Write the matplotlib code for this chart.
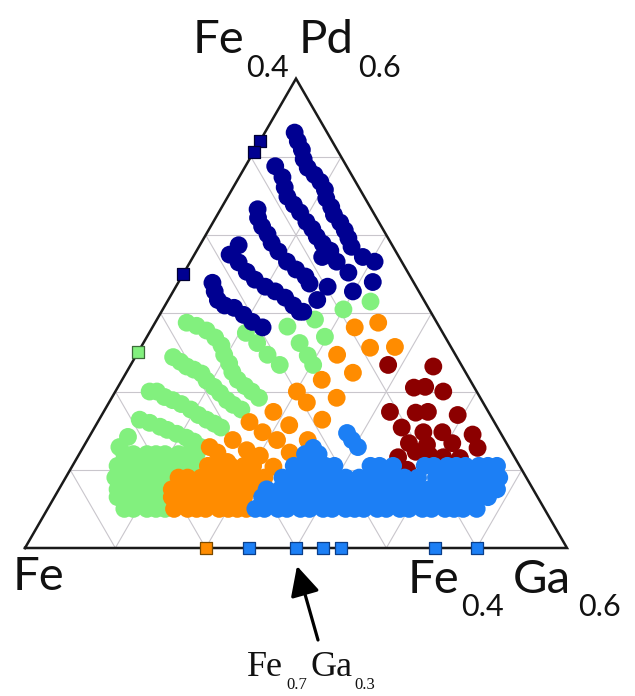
import numpy as np
import matplotlib
matplotlib.use("Agg")
import matplotlib.pyplot as plt

# compositions in at.% (Ga, Pd); Fe is the balance
navy = [(3.3, 53.1), (4.2, 52.0), (5.2, 50.9), (6.0, 49.7), (7.0, 48.6), (8.2, 47.7),
        (9.3, 46.8), (10.3, 45.8), (11.0, 44.7), (12.1, 43.6), (12.9, 42.6), (14.1, 41.6),
        (15.1, 40.6), (16.0, 39.6), (16.9, 38.5), (18.8, 37.2), (20.4, 36.6), (21.5, 34.0),
        (3.3, 48.8), (4.8, 47.4), (5.7, 46.1), (6.6, 44.9), (7.8, 43.9), (9.0, 42.9),
        (10.3, 41.7), (11.4, 40.8), (12.4, 39.8), (13.5, 38.9), (14.8, 38.0), (16.2, 36.6),
        (18.2, 35.2), (19.9, 32.8),
        (4.1, 43.3), (4.7, 42.2), (5.7, 41.1), (6.8, 40.1), (7.8, 39.0), (9.1, 37.9),
        (10.7, 36.6), (12.2, 35.6), (13.7, 34.7), (14.6, 33.8), (14.3, 37.2), (16.8, 33.4),
        (16.5, 31.7), (15.7, 30.2),
        (4.3, 38.7), (3.9, 37.5), (5.4, 36.5), (6.9, 35.3), (8.3, 34.3), (9.9, 33.4),
        (11.3, 32.8), (12.8, 32.0), (14.2, 31.0), (15.3, 30.2),
        (3.8, 33.9), (4.6, 32.8), (5.5, 31.7), (6.6, 31.0), (7.8, 30.7), (9.3, 29.8),
        (10.7, 28.9), (12.2, 28.2)]

green = [(3.5, 28.8), (4.8, 28.4), (6.2, 27.8), (7.6, 26.9), (8.8, 25.9), (9.7, 24.7),
         (10.8, 23.6), (11.7, 22.5), (12.8, 21.5), (14.0, 20.7), (15.1, 20.0), (16.3, 19.2),
         (4.2, 24.4), (5.3, 23.8), (6.3, 23.2), (7.3, 22.8), (8.4, 22.3), (9.4, 21.4),
         (10.6, 20.6), (11.7, 19.8), (12.9, 18.9), (13.9, 18.3), (15.1, 17.7),
         (3.8, 20.0), (4.6, 20.0), (5.8, 19.3), (6.9, 18.9), (8.1, 18.4), (9.5, 17.7),
         (10.7, 17.0), (11.9, 16.4), (13.0, 15.9), (14.0, 15.4),
         (4.5, 16.4), (5.8, 16.0), (7.2, 15.5), (8.2, 15.1), (9.5, 14.6), (10.8, 14.1),
         (11.9, 13.6), (13.0, 12.9), (4.3, 14.2), (4.0, 12.9),
         (10.7, 27.5), (12.6, 26.2), (14.5, 24.7), (16.5, 23.4),
         (14.9, 28.3), (17.3, 26.2), (19.0, 24.6), (20.2, 23.4),
         (17.5, 29.2), (19.7, 27.0), (20.0, 30.5), (22.5, 31.5)]
green_rows = {5: [8.5, 9.5, 11, 12, 13],
              6.5: [7, 8, 9.5, 10.5, 11.5, 12.5],
              7.5: [6.5, 7.5, 8.5, 10, 11, 12],
              9: [5.5, 6.5, 8, 9, 10, 11.5],
              10.5: [5, 6, 7.5, 8.5, 9.5, 11, 12, 13, 14],
              12: [5, 6, 7.5, 8.5, 9.5, 11, 12, 13]}

orange = [(22.4, 28.2), (24.7, 28.8), (25.4, 25.6), (28.1, 25.7), (22.2, 24.7), (25.1, 22.4),
          (22.1, 21.5), (24.9, 19.2), (21.9, 18.6), (20.1, 20.0), (24.7, 16.4), (24.4, 13.8),
          (18.8, 17.4), (21.4, 15.7), (16.8, 16.1), (18.9, 14.8), (21.0, 13.8), (23.2, 12.2),
          (16.1, 13.8), (18.3, 12.5), (20.1, 11.8), (22.3, 10.4), (20.7, 9.1),
          (15.2, 12.2), (16.9, 11.0), (18.8, 10.0), (14.0, 12.9)]
orange_rows = {5: [14, 15.5, 16.5, 17.5, 19, 20, 21, 22],
               6.5: [13, 14, 15.5, 16.5, 17.5, 19, 20, 21],
               7.5: [12.5, 13.5, 15, 16, 17, 18.5, 19.5, 20.5, 22],
               9: [12.5, 13.5, 15, 16, 17, 18.5, 19.5, 20.5, 22],
               10.5: [15, 16.5, 17.5, 19, 20]}

red = [(28.5, 23.4), (33.6, 23.2), (32.8, 20.5), (34.0, 20.6), (36.3, 20.0), (31.7, 17.4),
       (34.6, 17.3), (35.9, 17.4), (39.4, 17.0), (34.0, 15.4), (36.7, 14.8), (38.8, 14.8),
       (42.3, 14.5), (35.8, 13.4), (37.9, 13.2), (40.6, 13.4), (43.7, 12.8), (35.5, 11.6),
       (38.8, 11.9), (40.5, 11.6), (42.4, 11.5), (37.3, 10.0), (40.2, 11.0), (37.1, 12.3)]

blue = [(28.3, 14.7), (29.3, 13.8), (30.4, 12.9), (25.5, 12.8)]
blue_rows = {5: [23, 24, 25.5, 26.5, 28, 29, 30.5, 31.5, 33, 34, 35, 36.5, 37.5, 39, 40,
                 41.5, 42.5, 44, 45, 46, 47.5],
             6.5: [23, 24, 25, 26.5, 27.5, 29, 30, 31, 32.5, 33.5, 35, 36, 37, 38.5, 39.5,
                   41, 42, 43, 44.5, 45.5, 47, 48],
             7.5: [23, 24.5, 25.5, 27, 28, 29, 30.5, 31.5, 33, 34, 35, 36.5, 37.5, 38.5, 40,
                   41, 42.5, 43.5, 44.5, 46, 47, 48.5],
             9: [24, 25, 26, 27.5, 28.5, 30, 31, 32.5, 34, 35, 36.5, 37.5, 39, 41, 42, 43.5,
                 44.5, 45.5, 47, 48],
             10.5: [24.5, 26, 27, 28, 29, 33, 34, 35.5, 39, 40, 41.5, 42.5, 43.5, 45, 46, 47],
             12: [25, 26.5]}

# binary reference films on the edges
edge_fega_orange = [20.0]
edge_fega_blue = [24.8, 30.0, 33.0, 35.0, 45.4, 50.0]
edge_fepd_navy = [52.0, 50.6, 35.0]
edge_fepd_green = [25.0]

C_NAVY, C_GREEN, C_ORANGE, C_RED, C_BLUE = "#000091", "#82F07E", "#FF8C00", "#8C0000", "#1C7FF5"


def with_rows(points, rows):
    pts = list(points)
    for pd_val, gas in rows.items():
        pts += [(g, pd_val) for g in gas]
    return pts


def tern(ga, pd):
    # corners: Fe (0,0), Fe0.4Ga0.6 (1,0), Fe0.4Pd0.6 (1/2, sqrt3/2)
    b = np.asarray(ga, float) / 60.0
    c = np.asarray(pd, float) / 60.0
    return b + c / 2, c * np.sqrt(3) / 2


W, H = 635, 696
fig = plt.figure(figsize=(W / 100, H / 100), dpi=100)
ax = fig.add_axes([0, 0, 1, 1])
ax.set_xlim(-25 / 542, (W - 25) / 542)
ax.set_ylim(-(H - 548) / 542, 548 / 542)
ax.axis("off")

h = np.sqrt(3) / 2
for k in range(1, 6):
    f = k / 6
    ax.plot([f / 2, 1 - f / 2], [f * h, f * h], color="#c9c6cc", lw=0.8, zorder=1)
    ax.plot([f, f + (1 - f) / 2], [0, (1 - f) * h], color="#c9c6cc", lw=0.8, zorder=1)
    ax.plot([1 - f, (1 - f) / 2], [0, (1 - f) * h], color="#c9c6cc", lw=0.8, zorder=1)
ax.plot([0, 1, 0.5, 0], [0, 0, h, 0], color="#1a1a1a", lw=1.8, zorder=2,
        solid_joinstyle="miter")

groups = [(with_rows(green, green_rows), C_GREEN),
          (navy, C_NAVY),
          (with_rows(orange, orange_rows), C_ORANGE),
          (red, C_RED),
          (with_rows(blue, blue_rows), C_BLUE)]
for pts, col in groups:
    ga, pd = zip(*pts)
    x, y = tern(ga, pd)
    ax.scatter(x, y, s=165, color=col, edgecolors="none", zorder=3)

sq = dict(marker="s", s=80, linewidths=0.9, zorder=4)
x, y = tern(edge_fega_orange, np.zeros(1))
ax.scatter(x, y, color=C_ORANGE, edgecolors="#7a4a00", **sq)
x, y = tern(edge_fega_blue, np.zeros(len(edge_fega_blue)))
ax.scatter(x, y, color=C_BLUE, edgecolors="#0b3f8a", **sq)
x, y = tern(np.zeros(len(edge_fepd_navy)), edge_fepd_navy)
ax.scatter(x, y, color=C_NAVY, edgecolors="#000033", **sq)
x, y = tern(np.zeros(1), edge_fepd_green)
ax.scatter(x, y, color=C_GREEN, edgecolors="#3d6b3a", **sq)


def label(px, py, s, size, family="Lato"):
    fig.text(px / W, 1 - py / H, s, fontsize=size, family=family,
             ha="left", va="baseline", color="#111111")


big, small = 34, 22
label(193, 53, "Fe", big)
label(246, 77, "0.4", small)
label(299, 53, "Pd", big)
label(358, 77, "0.6", small)
label(13, 590, "Fe", big)
label(408, 593, "Fe", big)
label(461, 616, "0.4", small)
label(513, 593, "Ga", big)
label(578, 616, "0.6", small)

label(247, 676, "Fe", 26, "Liberation Serif")
label(286, 689, "0.7", 12, "Liberation Serif")
label(311, 676, "Ga", 26, "Liberation Serif")
label(354, 689, "0.3", 12, "Liberation Serif")

ax.annotate("", xy=(297, H - 566), xytext=(318, H - 640),
            xycoords="figure pixels", textcoords="figure pixels",
            arrowprops=dict(arrowstyle="-|>,head_length=0.6,head_width=0.3",
                            lw=2.3, color="black", mutation_scale=30,
                            shrinkA=0, shrinkB=0))

fig.savefig("out.png", dpi=100)
